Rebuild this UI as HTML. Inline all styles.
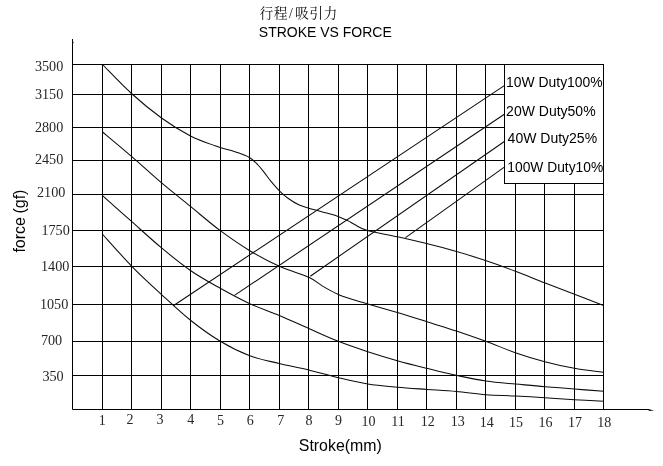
<!DOCTYPE html>
<html><head><meta charset="utf-8"><title>STROKE VS FORCE</title>
<style>
html,body{margin:0;padding:0;background:#fff}
body{width:663px;height:466px;overflow:hidden;position:relative}
svg{position:absolute;left:0;top:0;display:block}
.sans{font-family:"Liberation Sans",sans-serif;fill:#000}
.serif{font-family:"Liberation Serif","Noto Serif CJK SC",serif;fill:#262626}
.cjk{font-family:"Liberation Serif","Noto Serif CJK SC",serif;fill:#111}
.g{stroke:#000;stroke-width:1;fill:none}
.c{stroke:#0c0c0c;stroke-width:1.05;fill:none}
</style></head><body>
<svg width="663" height="466" viewBox="0 0 663 466">
<rect width="663" height="466" fill="#fff"/>
<path class="g" d="M102.5 64.5 V409.5 M131.5 64.5 V409.5 M161.5 64.5 V409.5 M190.5 64.5 V409.5 M220.5 64.5 V409.5 M249.5 64.5 V409.5 M279.5 64.5 V409.5 M308.5 64.5 V409.5 M338.5 64.5 V409.5 M367.5 64.5 V409.5 M397.5 64.5 V409.5 M426.5 64.5 V409.5 M456.5 64.5 V409.5 M485.5 64.5 V409.5 M515.5 64.5 V409.5 M544.5 64.5 V409.5 M574.5 64.5 V409.5 M603.5 64.5 V409.5 M72.5 64.5 H603.5 M72.5 94.5 H603.5 M72.5 127.5 H603.5 M72.5 160.5 H603.5 M72.5 194.5 H603.5 M72.5 230.5 H603.5 M72.5 266.5 H603.5 M72.5 304.5 H603.5 M72.5 341.5 H603.5 M72.5 375.5 H603.5"/>
<path class="c" d="M102.5 64.5 C107.3 69.3 121.7 84.6 131.5 93.5 C141.3 102.4 151.7 110.9 161.5 118.0 C171.3 125.1 181.6 131.4 190.5 136.0 C199.4 140.6 207.3 143.0 215.0 145.7 C222.7 148.4 230.8 150.2 236.5 152.2 C242.2 154.2 245.8 155.4 249.4 157.5 C253.0 159.6 255.5 162.5 258.0 165.0 C260.5 167.5 262.3 169.9 264.4 172.6 C266.5 175.3 268.3 178.2 270.8 181.2 C273.3 184.2 276.5 188.0 279.4 190.8 C282.3 193.7 284.8 196.0 288.0 198.3 C291.2 200.6 295.1 203.1 298.7 204.8 C302.3 206.5 305.6 207.2 309.5 208.4 C313.4 209.6 317.8 210.6 322.4 211.9 C327.0 213.2 333.1 214.7 337.4 216.2 C341.7 217.7 345.2 219.5 348.1 220.9 C351.0 222.3 351.8 223.2 355.0 224.8 C358.2 226.4 360.4 228.5 367.5 230.5 C374.6 232.5 387.7 234.6 397.5 236.8 C407.3 239.0 416.7 241.1 426.5 243.5 C436.3 245.9 446.7 248.6 456.5 251.4 C466.3 254.2 475.7 257.3 485.5 260.6 C495.3 263.9 505.7 267.6 515.5 271.3 C525.3 275.0 534.7 278.9 544.5 282.7 C554.3 286.5 564.7 290.5 574.5 294.3 C584.3 298.1 598.7 303.6 603.5 305.5"/>
<path class="c" d="M102.5 132.0 C107.4 136.1 122.0 148.2 131.8 156.7 C141.6 165.1 151.5 174.4 161.3 182.7 C171.1 191.0 181.0 198.7 190.8 206.7 C200.6 214.7 210.5 223.4 220.3 230.7 C230.1 238.0 240.0 244.8 249.8 250.7 C259.6 256.6 269.5 261.9 279.3 266.3 C289.1 270.7 301.7 274.0 308.8 277.3 C315.9 280.6 317.3 283.0 322.2 285.9 C327.1 288.8 332.9 292.1 338.3 294.5 C343.7 296.9 349.5 298.4 354.4 300.0 C359.3 301.6 360.6 301.9 367.8 304.0 C375.0 306.1 387.5 309.6 397.3 312.5 C407.1 315.4 417.0 318.6 426.8 321.7 C436.6 324.8 446.5 327.7 456.3 331.0 C466.1 334.3 476.0 337.7 485.8 341.3 C495.6 344.9 505.5 349.3 515.3 352.7 C525.1 356.1 535.0 359.1 544.8 361.7 C554.6 364.3 564.5 366.5 574.3 368.3 C584.1 370.1 598.9 371.6 603.8 372.3"/>
<path class="c" d="M102.5 195.7 C107.4 200.0 122.0 213.0 131.8 221.7 C141.6 230.4 151.5 239.5 161.3 247.7 C171.1 255.9 181.0 263.9 190.8 270.7 C200.6 277.5 210.5 282.8 220.3 288.3 C230.1 293.8 240.0 299.2 249.8 303.7 C259.6 308.2 269.5 311.4 279.3 315.5 C289.1 319.6 299.0 324.2 308.8 328.5 C318.6 332.8 328.5 337.4 338.3 341.3 C348.1 345.2 358.0 348.5 367.8 351.7 C377.6 354.9 387.5 357.9 397.3 360.7 C407.1 363.5 417.0 365.9 426.8 368.3 C436.6 370.7 446.5 373.2 456.3 375.3 C466.1 377.4 476.0 379.6 485.8 381.0 C495.6 382.4 505.5 383.1 515.3 384.0 C525.1 384.9 535.0 385.9 544.8 386.7 C554.6 387.5 564.5 388.2 574.3 389.0 C584.1 389.8 598.9 390.9 603.8 391.3"/>
<path class="c" d="M102.3 234.0 C107.2 239.4 122.0 256.2 131.8 266.3 C141.6 276.4 151.5 285.3 161.3 294.3 C171.1 303.3 181.0 312.7 190.8 320.5 C200.6 328.3 210.5 335.4 220.3 341.3 C230.1 347.2 240.0 352.1 249.8 355.8 C259.6 359.5 269.5 361.1 279.3 363.5 C289.1 365.9 299.0 367.6 308.8 370.0 C318.6 372.4 328.5 375.4 338.3 377.7 C348.1 380.0 358.0 382.4 367.8 384.0 C377.6 385.6 387.5 386.3 397.3 387.2 C407.1 388.1 417.0 388.7 426.8 389.4 C436.6 390.1 446.5 390.6 456.3 391.5 C466.1 392.4 476.0 393.9 485.8 394.7 C495.6 395.4 505.5 395.5 515.3 396.0 C525.1 396.5 535.0 397.1 544.8 397.7 C554.6 398.3 564.5 399.1 574.3 399.7 C584.1 400.3 598.9 401.0 603.8 401.3"/>
<path class="c" d="M173.3 305.7 L504.7 85.4 M234.5 295.4 L504.7 114.0 M310.3 276.2 L504.7 141.2 M405.5 237.6 L504.7 166.9"/>
<rect x="504.5" y="64.5" width="99" height="119" fill="#fff" stroke="#000" stroke-width="1"/>
<path class="g" d="M72.5 39 V409.5 H649"/>
<path d="M648.5 409 L654 410.4 L648.8 411 Z M72 39.5 L73.7 42.6 L72.5 44.5 Z" fill="#111"/>
<text class="sans" x="506.1" y="86.7" font-size="13.9">10W Duty100%</text>
<text class="sans" x="506.1" y="115.7" font-size="14">20W Duty50%</text>
<text class="sans" x="507.6" y="143.3" font-size="14">40W Duty25%</text>
<text class="sans" x="507.3" y="172.3" font-size="13.8">100W Duty10%</text>
<text class="cjk" x="259.4 273.7 289 294.9 309.2 323.5" y="18.4" font-size="13.8">行程/吸引力</text>
<text class="sans" x="258.8" y="36.5" font-size="14">STROKE VS FORCE</text>
<text class="sans" x="298.8" y="450.6" font-size="15.9">Stroke(mm)</text>
<text class="sans" transform="translate(24.6 252.6) rotate(-90)" font-size="16" word-spacing="-1">force (gf)</text>
<text class="serif" x="34.9" y="70.9" font-size="14.2">3500</text>
<text class="serif" x="34.9" y="98.9" font-size="14.2">3150</text>
<text class="serif" x="34.9" y="131.5" font-size="14.2">2800</text>
<text class="serif" x="34.9" y="164.1" font-size="14.2">2450</text>
<text class="serif" x="37.0" y="197.3" font-size="14.2">2100</text>
<text class="serif" x="41.4" y="235.4" font-size="14.2">1750</text>
<text class="serif" x="41.0" y="270.8" font-size="14.2">1400</text>
<text class="serif" x="39.9" y="309.0" font-size="14.2">1050</text>
<text class="serif" x="40.9" y="345.3" font-size="14.2">700</text>
<text class="serif" x="42.4" y="380.5" font-size="14.2">350</text>
<text class="serif" x="102.2" y="424.6" font-size="14" text-anchor="middle">1</text>
<text class="serif" x="130.1" y="423.7" font-size="14" text-anchor="middle">2</text>
<text class="serif" x="160.1" y="423.7" font-size="14" text-anchor="middle">3</text>
<text class="serif" x="190.8" y="423.7" font-size="14" text-anchor="middle">4</text>
<text class="serif" x="220.5" y="425.2" font-size="14" text-anchor="middle">5</text>
<text class="serif" x="250.2" y="425.2" font-size="14" text-anchor="middle">6</text>
<text class="serif" x="280.8" y="425.2" font-size="14" text-anchor="middle">7</text>
<text class="serif" x="308.9" y="424.6" font-size="14" text-anchor="middle">8</text>
<text class="serif" x="338.6" y="424.6" font-size="14" text-anchor="middle">9</text>
<text class="serif" x="368.4" y="426.3" font-size="14" text-anchor="middle">10</text>
<text class="serif" x="398.0" y="426.3" font-size="14" text-anchor="middle">11</text>
<text class="serif" x="427.7" y="426.3" font-size="14" text-anchor="middle">12</text>
<text class="serif" x="457.7" y="426.3" font-size="14" text-anchor="middle">13</text>
<text class="serif" x="486.8" y="426.6" font-size="14" text-anchor="middle">14</text>
<text class="serif" x="516.1" y="426.6" font-size="14" text-anchor="middle">15</text>
<text class="serif" x="545.5" y="426.6" font-size="14" text-anchor="middle">16</text>
<text class="serif" x="574.9" y="426.6" font-size="14" text-anchor="middle">17</text>
<text class="serif" x="604.3" y="426.6" font-size="14" text-anchor="middle">18</text>
</svg>
</body></html>
